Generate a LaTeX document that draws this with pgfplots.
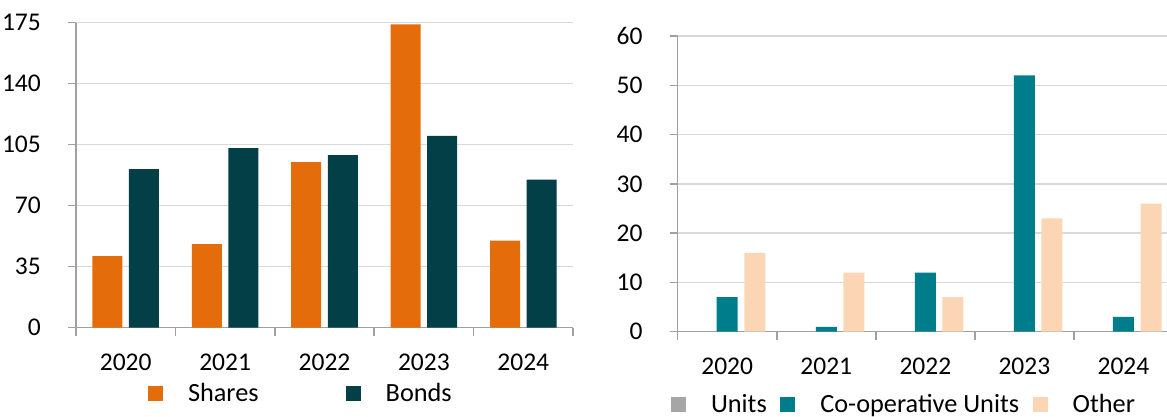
\documentclass[border=0pt]{standalone}
\usepackage{fontspec}
\setmainfont{Carlito}
\usepackage{pgfplots}
\pgfplotsset{compat=1.18}
\definecolor{cOrange}{RGB}{228,108,10}
\definecolor{cBonds}{RGB}{3,63,71}
\definecolor{cCoop}{RGB}{0,125,138}
\definecolor{cOther}{RGB}{252,213,180}
\definecolor{cUnits}{RGB}{166,166,166}
\definecolor{cGrid}{RGB}{217,217,217}
\definecolor{cAxis}{RGB}{160,160,160}
\newcommand{\lblfont}{\fontsize{25.5}{30}\selectfont}
\newcommand{\legfont}{\fontsize{26.3}{30}\selectfont}
\pgfplotsset{
  mybars/.style={
    scale only axis,
    ybar,
    axis lines*=left,
    axis line style={cAxis, line width=1.5pt},
    ymajorgrids,
    grid style={cGrid, line width=1.5pt},
    xmin=-0.5, xmax=4.5, ymin=0,
    xtick={-0.5,0.5,...,4.5},
    xticklabels={},
    extra x ticks={0,1,2,3,4},
    extra x tick labels={2020,2021,2022,2023,2024},
    extra x tick style={major tick length=0pt, grid=none,
      xticklabel style={anchor=north, inner sep=0pt, yshift=-26.5pt}},
    tick align=outside,
    major tick length=8pt,
    tick style={cAxis, line width=1.5pt},
    yticklabel style={anchor=east, inner sep=0pt, xshift=-27pt},
    /pgf/number format/assume math mode=true,
    tick label style={font=\lblfont, text=black},
    legend style={draw=none, fill=none, inner sep=0pt, outer sep=0pt,
      font=\legfont, anchor=west,
      nodes={inner sep=0pt},
      column sep=0pt},
    legend image code/.code={\fill[#1,draw=none] (0pt,-7.5pt) rectangle (15pt,7.5pt);},
  }
}
\begin{document}
\begin{tikzpicture}
\begin{axis}[mybars,
  at={(76pt,89.3pt)}, anchor=south west,
  width=497pt, height=305pt,
  ymax=175, ytick={0,35,70,105,140,175},
  bar width=0.302,
  legend columns=2,
  legend style={at={(0.1449,-0.2157)},
    /tikz/every odd column/.append style={column sep=25pt},
    /tikz/every even column/.append style={column sep=87pt}},
]
\addplot[fill=cOrange, draw=none, bar shift=-0.184] coordinates {(0,41) (1,48) (2,95) (3,174) (4,50)};
\addlegendentry{Shares}
\addplot[fill=cBonds, draw=none, bar shift=0.184] coordinates {(0,91) (1,103) (2,99) (3,110) (4,85)};
\addlegendentry{Bonds}
\end{axis}
\begin{axis}[mybars,
  at={(677.7pt,85.3pt)}, anchor=south west,
  width=495.3pt, height=295.7pt,
  ymax=60, ytick={0,10,20,30,40,50,60},
  bar width=0.212,
  legend columns=3,
  legend style={at={(-0.0135,-0.245)},
    /tikz/every odd column/.append style={column sep=25pt},
    /tikz/every even column/.append style={column sep=13.5pt}},
]
\addplot[fill=cUnits, draw=none, bar shift=-0.278] coordinates {(0,0) (1,0) (2,0) (3,0) (4,0)};
\addlegendentry{Units}
\addplot[fill=cCoop, draw=none, bar shift=0] coordinates {(0,7) (1,1) (2,12) (3,52) (4,3)};
\addlegendentry{Co-operative Units}
\addplot[fill=cOther, draw=none, bar shift=0.278] coordinates {(0,16) (1,12) (2,7) (3,23) (4,26)};
\addlegendentry{Other}
\end{axis}
\pgfresetboundingbox
\path (0pt,0pt) rectangle (1167pt,417pt);
\end{tikzpicture}
\end{document}
